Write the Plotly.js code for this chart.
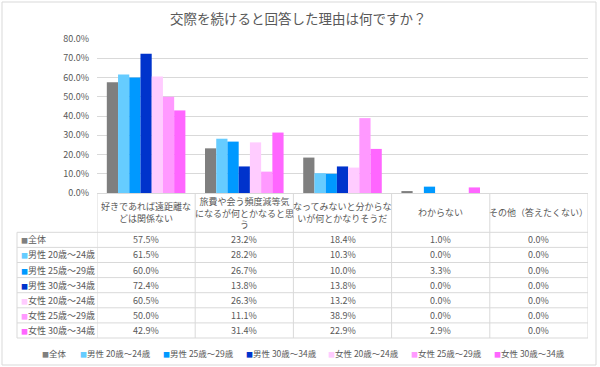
<!DOCTYPE html>
<html>
<head>
<meta charset="utf-8">
<script src="https://cdn.plot.ly/plotly-3.0.1.min.js"></script>
<style>html,body{margin:0;padding:0;background:#fff;}#chart{width:600px;height:367px;}</style>
</head>
<body>
<div id="chart"></div>
<script>
// ---- data ----
const categories = [
  "好きであれば遠距離など関係ない",
  "旅費や会う頻度減等気になるが何とかなると思う",
  "なってみないと分からないが何とかなりそうだ",
  "わからない",
  "その他（答えたくない）"
];
const headerLabels = [
  "好きであれば遠距離な<br>どは関係ない",
  "旅費や会う頻度減等気<br>になるが何とかなると思<br>う",
  "なってみないと分からな<br>いが何とかなりそうだ",
  "わからない",
  "その他（答えたくない）"
];
const seriesNames = ["全体", "男性 20歳～24歳", "男性 25歳～29歳", "男性 30歳～34歳", "女性 20歳～24歳", "女性 25歳～29歳", "女性 30歳～34歳"];
const valAll   = [57.5, 23.2, 18.4, 1.0, 0.0];
const valM2024 = [61.5, 28.2, 10.3, 0.0, 0.0];
const valM2529 = [60.0, 26.7, 10.0, 3.3, 0.0];
const valM3034 = [72.4, 13.8, 13.8, 0.0, 0.0];
const valF2024 = [60.5, 26.3, 13.2, 0.0, 0.0];
const valF2529 = [50.0, 11.1, 38.9, 0.0, 0.0];
const valF3034 = [42.9, 31.4, 22.9, 2.9, 0.0];
const yTicks = [0, 10, 20, 30, 40, 50, 60, 70, 80];

// ---- styles ----
const seriesValues = [valAll, valM2024, valM2529, valM3034, valF2024, valF2529, valF3034];
const colors = ["#7f7f7f", "#66ccff", "#0099ff", "#0033cc", "#ffccff", "#ff99ff", "#ff66ff"];
const FONT = "'Noto Sans CJK JP', 'Noto Sans', sans-serif";
const TXT = "#595959";
const GRID = "#d9d9d9";

const W = 600, H = 367;
const M = {l: 97, r: 12, t: 39, b: 174};
const PW = W - M.l - M.r, PH = H - M.t - M.b;
const px = x => (x - M.l) / PW;          // page px -> paper x
const py = y => (H - M.b - y) / PH;      // page px -> paper y

const traces = seriesNames.map((name, i) => ({
  type: "bar",
  name: name,
  x: categories,
  y: seriesValues[i],
  marker: {color: colors[i]},
  showlegend: false,
  hoverinfo: "skip"
}));

const shapes = [];
const annotations = [];

// table geometry
const tableTop = H - M.b;      // 193
const headBottom = 232.3;
const rowH = 15.1;
const nRows = seriesNames.length;
const tableBottom = headBottom + rowH * nRows;
const leftX = 17;

// vertical lines
shapes.push({type: "line", xref: "paper", yref: "paper", x0: px(leftX), x1: px(leftX), y0: py(headBottom), y1: py(tableBottom), line: {color: GRID, width: 1}});
for (let k = 0; k <= categories.length; k++) {
  shapes.push({type: "line", xref: "x", yref: "paper", x0: k - 0.5, x1: k - 0.5, y0: py(tableTop), y1: py(tableBottom), line: {color: GRID, width: 1}});
}
// horizontal lines
for (let r = 0; r <= nRows; r++) {
  const yy = headBottom + rowH * r;
  shapes.push({type: "line", xref: "paper", yref: "paper", x0: px(leftX), x1: 1, y0: py(yy), y1: py(yy), line: {color: GRID, width: 1}});
}
// outer border
shapes.push({type: "rect", xref: "paper", yref: "paper", x0: px(2), x1: px(596), y0: py(365), y1: py(2), line: {color: GRID, width: 1}, fillcolor: "rgba(0,0,0,0)", layer: "below"});

const mark = c => '<span style="color:' + c + ';font-size:7px">■</span>';

// header labels
headerLabels.forEach((lab, j) => {
  annotations.push({xref: "x", yref: "paper", x: categories[j], y: py((tableTop + headBottom) / 2), text: lab, showarrow: false, xanchor: "center", yanchor: "middle", align: "center", font: {family: FONT, size: 9, color: TXT}});
});
// rows
seriesNames.forEach((name, i) => {
  const yc = py(headBottom + rowH * (i + 0.5));
  annotations.push({xref: "paper", yref: "paper", x: px(19), y: yc, text: mark(colors[i]) + name, showarrow: false, xanchor: "left", yanchor: "middle", font: {family: FONT, size: 9, color: TXT}});
  seriesValues[i].forEach((v, j) => {
    annotations.push({xref: "x", yref: "paper", x: categories[j], y: yc, text: v.toFixed(1) + "%", showarrow: false, xanchor: "center", yanchor: "middle", font: {family: FONT, size: 9, color: TXT}});
  });
});
// legend
const legendX = [40, 78, 161, 244, 326, 409, 492];
seriesNames.forEach((name, i) => {
  annotations.push({xref: "paper", yref: "paper", x: px(legendX[i]), y: py(352.5), text: mark(colors[i]) + name, showarrow: false, xanchor: "left", yanchor: "middle", font: {family: FONT, size: 8.5, color: TXT}});
});

const layout = {
  width: W, height: H,
  margin: {l: M.l, r: M.r, t: M.t, b: M.b, pad: 0},
  paper_bgcolor: "#ffffff", plot_bgcolor: "#ffffff",
  title: {text: "交際を続けると回答した理由は何ですか？", font: {family: FONT, size: 13.5, color: TXT}, xref: "container", yref: "container", x: 0.497, y: 1 - 19 / H, xanchor: "center", yanchor: "middle"},
  barmode: "group", bargap: 0.2, bargroupgap: 0,
  xaxis: {type: "category", range: [-0.5, categories.length - 0.5], showticklabels: false, ticks: "", showgrid: false, showline: true, linecolor: GRID, linewidth: 1, zeroline: false, fixedrange: true},
  yaxis: {range: [0, 80], tickvals: yTicks, ticktext: yTicks.map(v => v.toFixed(1) + "%"), showgrid: true, gridcolor: GRID, gridwidth: 1, zeroline: false, showline: false, ticks: "", ticklabelstandoff: 7, tickfont: {family: FONT, size: 9, color: TXT}, fixedrange: true},
  showlegend: false,
  shapes: shapes,
  annotations: annotations,
  font: {family: FONT, color: TXT}
};

Plotly.newPlot("chart", traces, layout, {displayModeBar: false, staticPlot: true});
</script>
</body>
</html>
